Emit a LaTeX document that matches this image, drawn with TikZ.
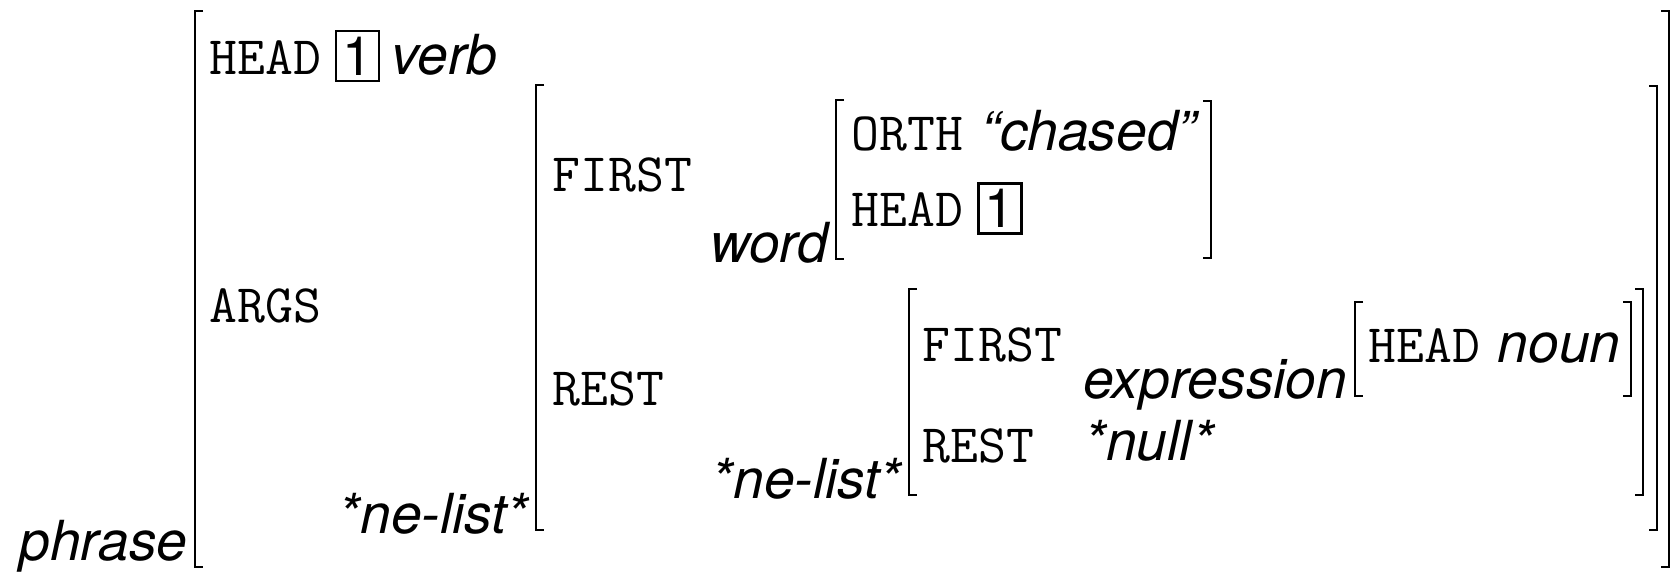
\documentclass[tikz,border=0pt]{standalone}
\usepackage{fontspec}
\newfontfamily\avmsf{TeX Gyre Heros}

\begin{document}
\begin{tikzpicture}[x=0.01cm, y=-0.01cm,
  feat/.style={anchor=base west, inner sep=0pt, font=\fontsize{15.4}{18}\selectfont\ttfamily},
  type/.style={anchor=base west, inner sep=0pt, font=\fontsize{15.7}{18}\selectfont\avmsf\itshape},
  sort/.style={type, anchor=base east},
  tag/.style={draw, line width=0.6pt, inner sep=0pt, minimum width=0.43cm,
              minimum height=0.5cm, font=\fontsize{15.4}{18}\selectfont\avmsf},
  brk/.style={line width=0.6pt}]

\useasboundingbox (0,0) rectangle (1671,579);

% phrase
\draw (188,560) node[sort] (phrase) {phrase};
\draw[brk] (203,11) -- (195,11) -- (195,567) -- (203,567);
\draw[brk] (1661,11) -- (1669,11) -- (1669,567) -- (1661,567);
\draw (209,75) node[feat] (headA) {HEAD};
\draw (357.5,56) node[tag] (tagA) {1};
\draw (391,75) node[type] (verb) {verb};
\draw (209,322) node[feat] (args) {ARGS};

% args value
\draw (529,533) node[sort] (nelistA) {*ne-list*};
\draw[brk] (544,85) -- (536,85) -- (536,530) -- (544,530);
\draw[brk] (1649,86) -- (1657,86) -- (1657,530) -- (1649,530);
\draw (552,192) node[feat] (firstA) {FIRST};
\draw (552,405) node[feat] (restA) {REST};

% word
\draw (829,262) node[sort] (word) {word};
\draw[brk] (844,100) -- (836,100) -- (836,259) -- (844,259);
\draw[brk] (1203,101) -- (1211,101) -- (1211,258) -- (1203,258);
\draw (851,150) node[feat] (orth) {ORTH};
\draw (981,150) node[type] (chased) {“chased”};
\draw (851,226) node[feat] (headB) {HEAD};
\draw (1000,208.5) node[tag] (tagB) {1};

% rest value
\draw (902,498) node[sort] (nelistB) {*ne-list*};
\draw[brk] (917,289) -- (909,289) -- (909,495) -- (917,495);
\draw[brk] (1635,289) -- (1643,289) -- (1643,495) -- (1635,495);
\draw (922,361) node[feat] (firstB) {FIRST};
\draw (922,462) node[feat] (restB) {REST};
\draw (1348,398) node[sort] (expr) {expression};
\draw[brk] (1363,302) -- (1355,302) -- (1355,396) -- (1363,396);
\draw[brk] (1623,302) -- (1631,302) -- (1631,396) -- (1623,396);
\draw (1368,362) node[feat] (headC) {HEAD};
\draw (1497,362) node[type] (noun) {noun};
\draw (1084,460) node[type] (null) {*null*};
\end{tikzpicture}
\end{document}
